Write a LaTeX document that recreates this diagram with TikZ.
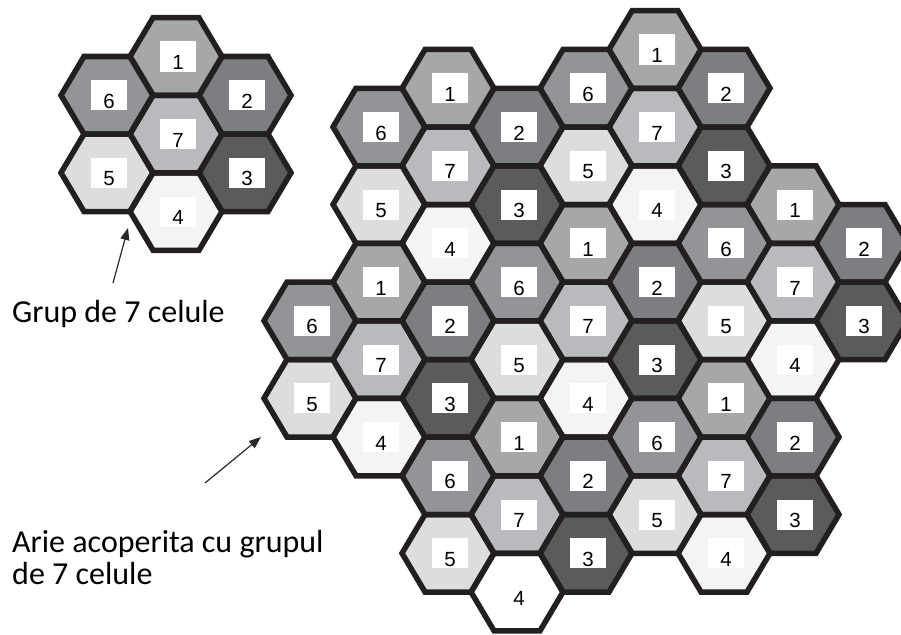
\documentclass[tikz,border=0pt]{standalone}
\usepackage{fontspec}
\setmainfont{Carlito}
\newfontfamily\digitfont{Liberation Sans}
\usetikzlibrary{arrows.meta}
\definecolor{c1}{RGB}{166,167,169}
\definecolor{c2}{RGB}{125,126,129}
\definecolor{c3}{RGB}{90,91,93}
\definecolor{c4}{RGB}{244,244,244}
\definecolor{c5}{RGB}{220,221,223}
\definecolor{c6}{RGB}{147,148,151}
\definecolor{c7}{RGB}{185,186,189}
\definecolor{cW}{RGB}{255,255,255}
\definecolor{hexstroke}{RGB}{35,31,32}
\definecolor{arrowcol}{RGB}{40,40,40}
\begin{document}
\begin{tikzpicture}[x=1pt,y=-1pt,
  hexline/.style={draw=hexstroke,line width=5.5pt,line join=miter},
  labelbox/.style={fill=white,inner sep=0pt,minimum width=36pt,minimum height=30pt},
  digit/.style={anchor=base,inner sep=0pt,font=\digitfont\fontsize{20.5}{21}\selectfont,text=black},
  annot/.style={anchor=base west,inner sep=0pt,font=\fontsize{32}{33}\selectfont,text=black},
  arrowline/.style={draw=arrowcol,line width=1.2pt,-{Triangle[length=12pt,width=9pt]}}]
\useasboundingbox (0,0) rectangle (901,634);

% ---------- small cluster: x / y / label / colour
\def\smallcells{176/56.5/1/c1, 107/95.25/6/c6, 245/95.25/2/c2, 176/134/7/c7,
  107/172.75/5/c5, 245/172.75/3/c3, 176/211.5/4/c4}
% ---------- large cluster: column / half-row / label / colour
\def\bigcells{0/7/6/c6, 0/5/5/c5,
  1/12/6/c6, 1/10/5/c5, 1/8/1/c1, 1/6/7/c7, 1/4/4/c4,
  2/13/1/c1, 2/11/7/c7, 2/9/4/c4, 2/7/2/c2, 2/5/3/c3, 2/3/6/c6, 2/1/5/c5,
  3/12/2/c2, 3/10/3/c3, 3/8/6/c6, 3/6/5/c5, 3/4/1/c1, 3/2/7/c7, 3/0/4/cW,
  4/13/6/c6, 4/11/5/c5, 4/9/1/c1, 4/7/7/c7, 4/5/4/c4, 4/3/2/c2, 4/1/3/c3,
  5/14/1/c1, 5/12/7/c7, 5/10/4/c4, 5/8/2/c2, 5/6/3/c3, 5/4/6/c6, 5/2/5/c5,
  6/13/2/c2, 6/11/3/c3, 6/9/6/c6, 6/7/5/c5, 6/5/1/c1, 6/3/7/c7, 6/1/4/c4,
  7/10/1/c1, 7/8/7/c7, 7/6/4/c4, 7/4/2/c2, 7/2/3/c3,
  8/9/2/c2, 8/7/3/c3}

% fills
\foreach \X/\Y/\n/\col in \smallcells {
  \fill[\col] (\X-46,\Y) -- (\X-23,\Y-38.75) -- (\X+23,\Y-38.75) -- (\X+46,\Y)
    -- (\X+23,\Y+38.75) -- (\X-23,\Y+38.75) -- cycle;
}
\foreach \c/\r/\n/\col in \bigcells {
  \pgfmathsetmacro\X{310+69*\c}
  \pgfmathsetmacro\Y{592-38.75*\r}
  \fill[\col] (\X-46,\Y) -- (\X-23,\Y-38.75) -- (\X+23,\Y-38.75) -- (\X+46,\Y)
    -- (\X+23,\Y+38.75) -- (\X-23,\Y+38.75) -- cycle;
}
% outlines
\foreach \X/\Y/\n/\col in \smallcells {
  \draw[hexline] (\X-46,\Y) -- (\X-23,\Y-38.75) -- (\X+23,\Y-38.75) -- (\X+46,\Y)
    -- (\X+23,\Y+38.75) -- (\X-23,\Y+38.75) -- cycle;
}
\foreach \c/\r/\n/\col in \bigcells {
  \pgfmathsetmacro\X{310+69*\c}
  \pgfmathsetmacro\Y{592-38.75*\r}
  \draw[hexline] (\X-46,\Y) -- (\X-23,\Y-38.75) -- (\X+23,\Y-38.75) -- (\X+46,\Y)
    -- (\X+23,\Y+38.75) -- (\X-23,\Y+38.75) -- cycle;
}
% labels
\foreach \X/\Y/\n/\col [count=\i] in \smallcells {
  \node[labelbox] (sbox\i) at (\X+2,\Y) {};
  \node[digit] (slab\i) at ([yshift=2pt]sbox\i.south) {\n};
}
\foreach \c/\r/\n/\col [count=\i] in \bigcells {
  \pgfmathsetmacro\X{310+69*\c}
  \pgfmathsetmacro\Y{592-38.75*\r}
  \node[labelbox] (bbox\i) at (\X+2,\Y) {};
  \node[digit] (blab\i) at ([yshift=2pt]bbox\i.south) {\n};
}

% annotations
\node[annot] (grup) at (12,322) {Grup de 7 celule};
\node[annot] (arie1) at (12,552) {Arie acoperita cu grupul};
\node[annot] (arie2) at (12,584) {de 7 celule};

\coordinate (a1s) at (113,283);
\coordinate (a1e) at (128,228);
\coordinate (a2s) at (205,483);
\coordinate (a2e) at (261,437);
\draw[arrowline] (a1s) -- (a1e);
\draw[arrowline] (a2s) -- (a2e);
\end{tikzpicture}
\end{document}
